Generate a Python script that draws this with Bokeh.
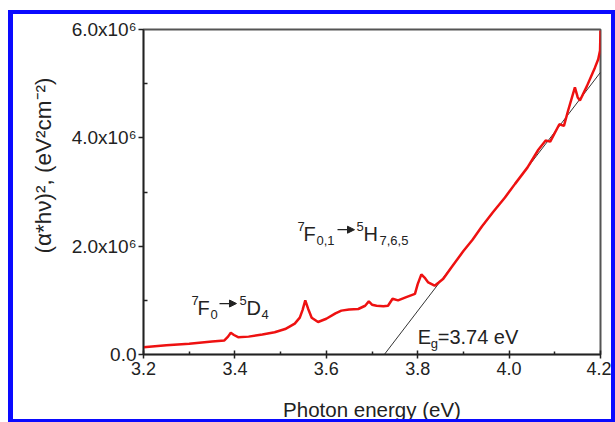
from bokeh.plotting import figure
from bokeh.models import FixedTicker, PrintfTickFormatter, Arrow, NormalHead, Title
from bokeh.core.properties import value
from bokeh.embed import file_html
from bokeh.resources import INLINE

# ---- data ----
energy = [3.200, 3.250, 3.300, 3.350, 3.377, 3.385, 3.391, 3.398, 3.407, 3.430,
          3.460, 3.487, 3.510, 3.531, 3.542, 3.548, 3.554, 3.560, 3.568, 3.582,
          3.600, 3.620, 3.633, 3.650, 3.670, 3.685, 3.693, 3.700, 3.710, 3.725,
          3.735, 3.745, 3.757, 3.775, 3.794, 3.800, 3.808, 3.815, 3.823, 3.837,
          3.846, 3.856, 3.874, 3.900, 3.920, 3.940, 3.965, 3.991, 4.013, 4.040,
          4.064, 4.080, 4.090, 4.110, 4.120, 4.129, 4.144, 4.150, 4.155, 4.170,
          4.188, 4.195, 4.199, 4.200]
absorb = [0.135e6, 0.17e6, 0.20e6, 0.24e6, 0.26e6, 0.33e6, 0.40e6, 0.36e6, 0.32e6, 0.33e6,
          0.37e6, 0.41e6, 0.47e6, 0.57e6, 0.68e6, 0.82e6, 1.00e6, 0.85e6, 0.68e6, 0.60e6,
          0.66e6, 0.76e6, 0.81e6, 0.83e6, 0.84e6, 0.90e6, 0.98e6, 0.92e6, 0.90e6, 0.89e6,
          0.90e6, 1.03e6, 1.00e6, 1.06e6, 1.12e6, 1.30e6, 1.48e6, 1.42e6, 1.33e6, 1.27e6,
          1.33e6, 1.40e6, 1.61e6, 1.91e6, 2.12e6, 2.36e6, 2.63e6, 2.90e6, 3.15e6, 3.45e6,
          3.78e6, 3.95e6, 3.93e6, 4.25e6, 4.22e6, 4.50e6, 4.93e6, 4.75e6, 4.69e6, 4.95e6,
          5.30e6, 5.45e6, 5.61e6, 5.98e6]
fit_x = [3.727, 4.200]
fit_y = [0.0, 5.21e6]

x_ticks = [3.2, 3.4, 3.6, 3.8, 4.0, 4.2]
x_minor = [3.3, 3.5, 3.7, 3.9, 4.1]
y_ticks = [0, 2000000, 4000000, 6000000]
y_minor = [1000000, 3000000, 5000000]
y_labels = ["0.0", "2.0x10\u2076", "4.0x10\u2076", "6.0x10\u2076"]
y_title = "(\u03b1*h\u03bd)\u00b2, (eV\u00b2cm\u207b\u00b2)"
x_title = "Photon energy (eV)"

FONT = "Liberation Sans"
INK = "#222222"

p = figure(width=607, height=412, x_range=(3.2, 4.2), y_range=(0, 6e6),
           output_backend="svg", toolbar_location=None,
           min_border_left=130, min_border_top=15, min_border_right=20, min_border_bottom=72)
p.styles = {"margin": "10px 0px 0px 8px",
            "border-style": "solid", "border-color": "#0a0aff",
            "border-width": "4px 4px 3px 5px"}
p.grid.visible = False
p.outline_line_color = "#555555"
p.outline_line_width = 2
p.background_fill_color = "white"
p.border_fill_color = "white"

# x axis
xa = p.xaxis[0]
xa.ticker = FixedTicker(ticks=x_ticks, minor_ticks=x_minor)
xa.formatter = PrintfTickFormatter(format="%.1f")
xa.axis_label = x_title
xa.axis_label_text_font = FONT
xa.axis_label_text_font_style = "normal"
xa.axis_label_text_font_size = "20.5px"
xa.axis_label_text_color = INK
xa.axis_label_standoff = 20
xa.major_label_text_font = FONT
xa.major_label_text_font_size = "18px"
xa.major_label_text_color = INK
xa.major_label_standoff = 3
xa.major_tick_in = 4
xa.major_tick_out = 4
xa.minor_tick_in = 3
xa.minor_tick_out = 0
xa.axis_line_width = 1.5
xa.axis_line_color = INK
xa.major_tick_line_width = 1.5
xa.major_tick_line_color = INK
xa.minor_tick_line_width = 1.5
xa.minor_tick_line_color = INK

# y axis
ya = p.yaxis[0]
ya.ticker = FixedTicker(ticks=y_ticks, minor_ticks=y_minor)
ya.major_label_overrides = {t: s for t, s in zip(y_ticks, y_labels)}
ya.major_label_text_font = FONT
ya.major_label_text_font_size = "19px"
ya.major_label_text_color = INK
ya.major_label_standoff = 2
ya.major_tick_in = 0
ya.major_tick_out = 5
ya.minor_tick_in = 4
ya.minor_tick_out = 0
ya.axis_line_width = 1.5
ya.axis_line_color = INK
ya.major_tick_line_width = 1.5
ya.major_tick_line_color = INK
ya.minor_tick_line_width = 1.5
ya.minor_tick_line_color = INK

# y-axis title placed off-centre (as in the reference) via a side Title
p.add_layout(Title(text=y_title, align="left", offset=101, standoff=26,
                   text_font=FONT, text_font_size="22.5px", text_font_style="normal",
                   text_color=INK), "left")

# data
p.line(fit_x, fit_y, line_color="#333333", line_width=1)
p.line(energy, absorb, line_color="#ee1111", line_width=2.5)

# ---- annotations ----
PX = 1.0 / 457.0  # eV per screen pixel

def label(ax, ay, pieces, arrow=None):
    for txt, dx, dy, size in pieces:
        p.text(x=[ax], y=[ay], text=[txt], x_offset=dx, y_offset=dy,
               text_font=value(FONT), text_font_size=size, text_color=INK,
               text_align="left", text_baseline="alphabetic")
    if arrow is not None:
        x0, x1, up = arrow
        yy = ay + up / 54.2 * 1e6
        p.add_layout(Arrow(x_start=ax + x0 * PX, y_start=yy, x_end=ax + x1 * PX, y_end=yy,
                           line_width=1.2, line_color=INK,
                           end=NormalHead(size=7, line_color=INK, fill_color=INK,
                                          line_width=1)))

# 7F0 -> 5D4
label(3.305, 0.867e6,
      [("7", 0, -7, "13px"), ("F", 6, 0, "20px"), ("0", 19, 7, "13px"),
       ("5", 48, -7, "13px"), ("D", 55, 0, "20px"), ("4", 70, 7, "13px")],
      arrow=(28, 45, 4))

# 7F0,1 -> 5H7,6,5
label(3.537, 2.23e6,
      [("7", 0, -7, "13px"), ("F", 6, 0, "20px"), ("0,1", 19, 7, "13px"),
       ("5", 59, -7, "13px"), ("H", 66, 0, "20px"), ("7,6,5", 82, 7, "13px")],
      arrow=(40, 57, 4))

# Eg = 3.74 eV
label(3.800, 0.314e6,
      [("E", 0, 0, "20px"), ("g", 13, 6, "13px"), ("=3.74 eV", 20, 0, "20px")])

open("out.html", "w").write(file_html(p, INLINE))
